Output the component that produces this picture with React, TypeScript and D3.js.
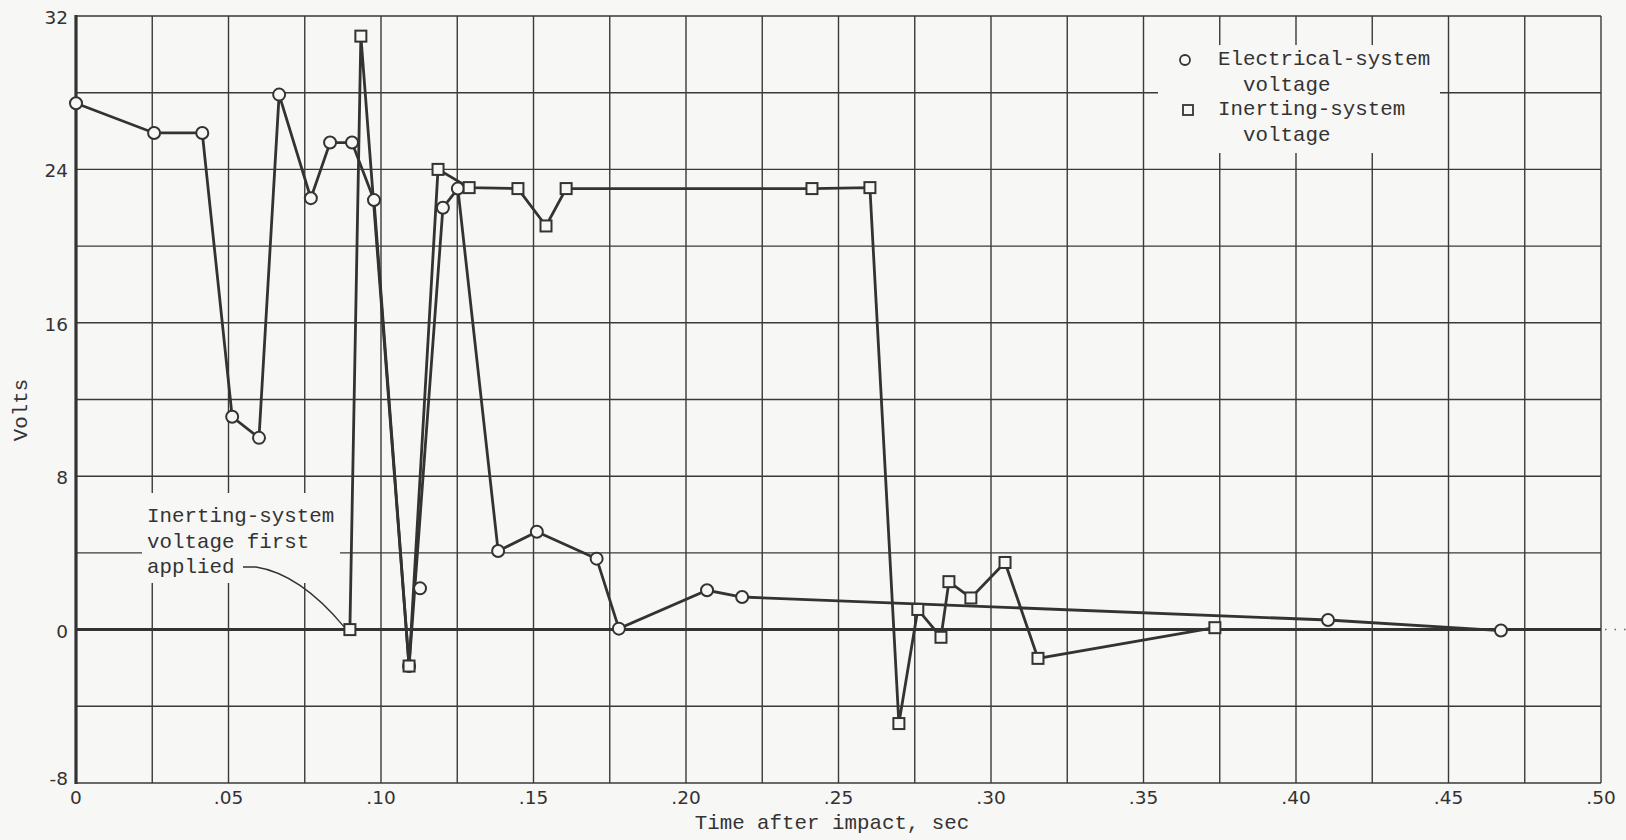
import React, { useEffect, useRef } from 'react'
import * as d3 from 'd3'

// Electrical-system voltage (circles) [time sec, volts]
const electrical: [number, number][] = [
  [0, 27.45], [0.0256, 25.9], [0.0414, 25.9], [0.0512, 11.1], [0.060, 10.0],
  [0.0666, 27.9], [0.077, 22.5], [0.0833, 25.4], [0.0905, 25.4], [0.0977, 22.4],
  [0.1092, -1.9], [0.1203, 22.0], [0.1252, 23.0], [0.1384, 4.1], [0.1511, 5.1],
  [0.1707, 3.7], [0.178, 0.05], [0.2069, 2.05], [0.2184, 1.7], [0.4105, 0.5],
  [0.4672, -0.05],
]
// isolated electrical reading not on the line
const electricalLoose: [number, number][] = [[0.1128, 2.15]]

// Inerting-system voltage (squares)
const inerting: [number, number][] = [
  [0.0898, 0], [0.0934, 30.95], [0.1092, -1.9], [0.1187, 24.0], [0.1289, 23.05],
  [0.1449, 23.0], [0.1541, 21.05], [0.1607, 23.0], [0.2413, 23.0], [0.2603, 23.05],
  [0.2698, -4.9], [0.276, 1.05], [0.2836, -0.4], [0.2862, 2.5], [0.2934, 1.65],
  [0.3046, 3.5], [0.3154, -1.5], [0.3734, 0.1],
]

const xTicks = [0, 0.05, 0.1, 0.15, 0.2, 0.25, 0.3, 0.35, 0.4, 0.45, 0.5]
const xTickLabels = ['0', '.05', '.10', '.15', '.20', '.25', '.30', '.35', '.40', '.45', '.50']
const yTicks = [-8, 0, 8, 16, 24, 32]
const legendItems = [
  { shape: 'circle', lines: ['Electrical-system', 'voltage'] },
  { shape: 'square', lines: ['Inerting-system', 'voltage'] },
]
const noteLines = ['Inerting-system', 'voltage first', 'applied']

export default function App() {
  const ref = useRef<SVGSVGElement | null>(null)
  useEffect(() => {
    if (!ref.current) return
    const svg = d3.select(ref.current)
    svg.selectAll('*').remove()
    const bg = '#f7f7f6'
    const ink = '#333'
    const mono = '"Liberation Mono", "DejaVu Sans Mono", monospace'
    const sans = '"DejaVu Sans", sans-serif'

    const x = d3.scaleLinear().domain([0, 0.5]).range([76, 1601])
    const y = d3.scaleLinear().domain([-8, 32]).range([783, 16])

    svg.append('rect').attr('width', 1626).attr('height', 840).attr('fill', bg)

    const grid = svg.append('g').attr('stroke', '#3a3a3a').attr('stroke-width', 1.4)
    grid.selectAll('line.v').data(d3.range(0, 21)).enter().append('line')
      .attr('x1', i => x(i * 0.025)).attr('x2', i => x(i * 0.025))
      .attr('y1', y(32)).attr('y2', y(-8))
    grid.selectAll('line.h').data(d3.range(0, 11)).enter().append('line')
      .attr('y1', i => y(-8 + i * 4)).attr('y2', i => y(-8 + i * 4))
      .attr('x1', x(0)).attr('x2', x(0.5))

    // gaps in the grid behind the legend and note
    svg.append('rect').attr('x', 1158).attr('y', 45).attr('width', 282).attr('height', 108).attr('fill', bg)
    svg.append('rect').attr('x', 142).attr('y', 493).attr('width', 198).attr('height', 90).attr('fill', bg)

    // heavy axis lines
    svg.append('line').attr('x1', x(0)).attr('x2', x(0)).attr('y1', y(32) - 1).attr('y2', y(-8) + 1)
      .attr('stroke', ink).attr('stroke-width', 3.2)
    svg.append('line').attr('x1', x(0)).attr('x2', x(0.5)).attr('y1', y(0)).attr('y2', y(0))
      .attr('stroke', ink).attr('stroke-width', 3)
    svg.append('line').attr('x1', x(0.5) + 4).attr('x2', 1626).attr('y1', y(0)).attr('y2', y(0))
      .attr('stroke', '#666').attr('stroke-width', 1.5).attr('stroke-dasharray', '1.5 8')

    const line = d3.line<[number, number]>().x(d => x(d[0])).y(d => y(d[1]))
    svg.append('path').attr('d', line(electrical)).attr('fill', 'none').attr('stroke', ink).attr('stroke-width', 2.8)
    svg.append('path').attr('d', line(inerting)).attr('fill', 'none').attr('stroke', ink).attr('stroke-width', 2.8)

    svg.append('g').selectAll('circle').data([...electrical, ...electricalLoose]).enter().append('circle')
      .attr('cx', d => x(d[0])).attr('cy', d => y(d[1])).attr('r', 6)
      .attr('fill', bg).attr('stroke', ink).attr('stroke-width', 2)
    svg.append('g').selectAll('rect').data(inerting).enter().append('rect')
      .attr('x', d => x(d[0]) - 5.5).attr('y', d => y(d[1]) - 5.5).attr('width', 11).attr('height', 11)
      .attr('fill', bg).attr('stroke', ink).attr('stroke-width', 2)

    // ticks
    svg.append('g').selectAll('text').data(xTicks).enter().append('text')
      .attr('x', d => x(d)).attr('y', 804).attr('text-anchor', 'middle')
      .attr('font-family', sans).attr('font-size', 18.5).attr('fill', ink)
      .text((_, i) => xTickLabels[i])
    svg.append('g').selectAll('text').data(yTicks).enter().append('text')
      .attr('x', 68).attr('y', d => y(d) + (d === -8 ? 2 : 8)).attr('text-anchor', 'end')
      .attr('font-family', sans).attr('font-size', 18.5).attr('fill', ink)
      .text(d => String(d))

    svg.append('text').attr('x', 832).attr('y', 829).attr('text-anchor', 'middle')
      .attr('font-family', mono).attr('font-size', 20.8).attr('fill', ink)
      .text('Time after impact, sec')
    svg.append('text').attr('transform', 'translate(27,410) rotate(-90)').attr('text-anchor', 'middle')
      .attr('font-family', mono).attr('font-size', 20.8).attr('fill', ink)
      .text('Volts')

    // legend
    const lg = svg.append('g').attr('font-family', mono).attr('font-size', 20.8).attr('fill', ink)
    legendItems.forEach((it, i) => {
      const cy = 60 + i * 50
      if (it.shape === 'circle') {
        lg.append('circle').attr('cx', 1185).attr('cy', cy).attr('r', 5)
          .attr('fill', 'none').attr('stroke', ink).attr('stroke-width', 1.8)
      } else {
        lg.append('rect').attr('x', 1183).attr('y', cy - 5).attr('width', 10).attr('height', 10)
          .attr('fill', 'none').attr('stroke', ink).attr('stroke-width', 1.8)
      }
      lg.append('text').attr('x', 1218).attr('y', cy + 5).text(it.lines[0])
      lg.append('text').attr('x', 1243).attr('y', cy + 31).text(it.lines[1])
    })

    // note
    const nt = svg.append('g').attr('font-family', mono).attr('font-size', 20.8).attr('fill', ink)
    noteLines.forEach((t, i) => {
      nt.append('text').attr('x', 147).attr('y', 522 + i * 25.5).text(t)
    })
    svg.append('path').attr('d', `M243,567 L256,567 Q300,574 ${x(0.0898) - 6},${y(0) - 3}`)
      .attr('fill', 'none').attr('stroke', ink).attr('stroke-width', 1.3)
  }, [])
  return <svg ref={ref} width={1626} height={840} style={{ position: 'absolute', left: 0, top: 0 }} />
}
